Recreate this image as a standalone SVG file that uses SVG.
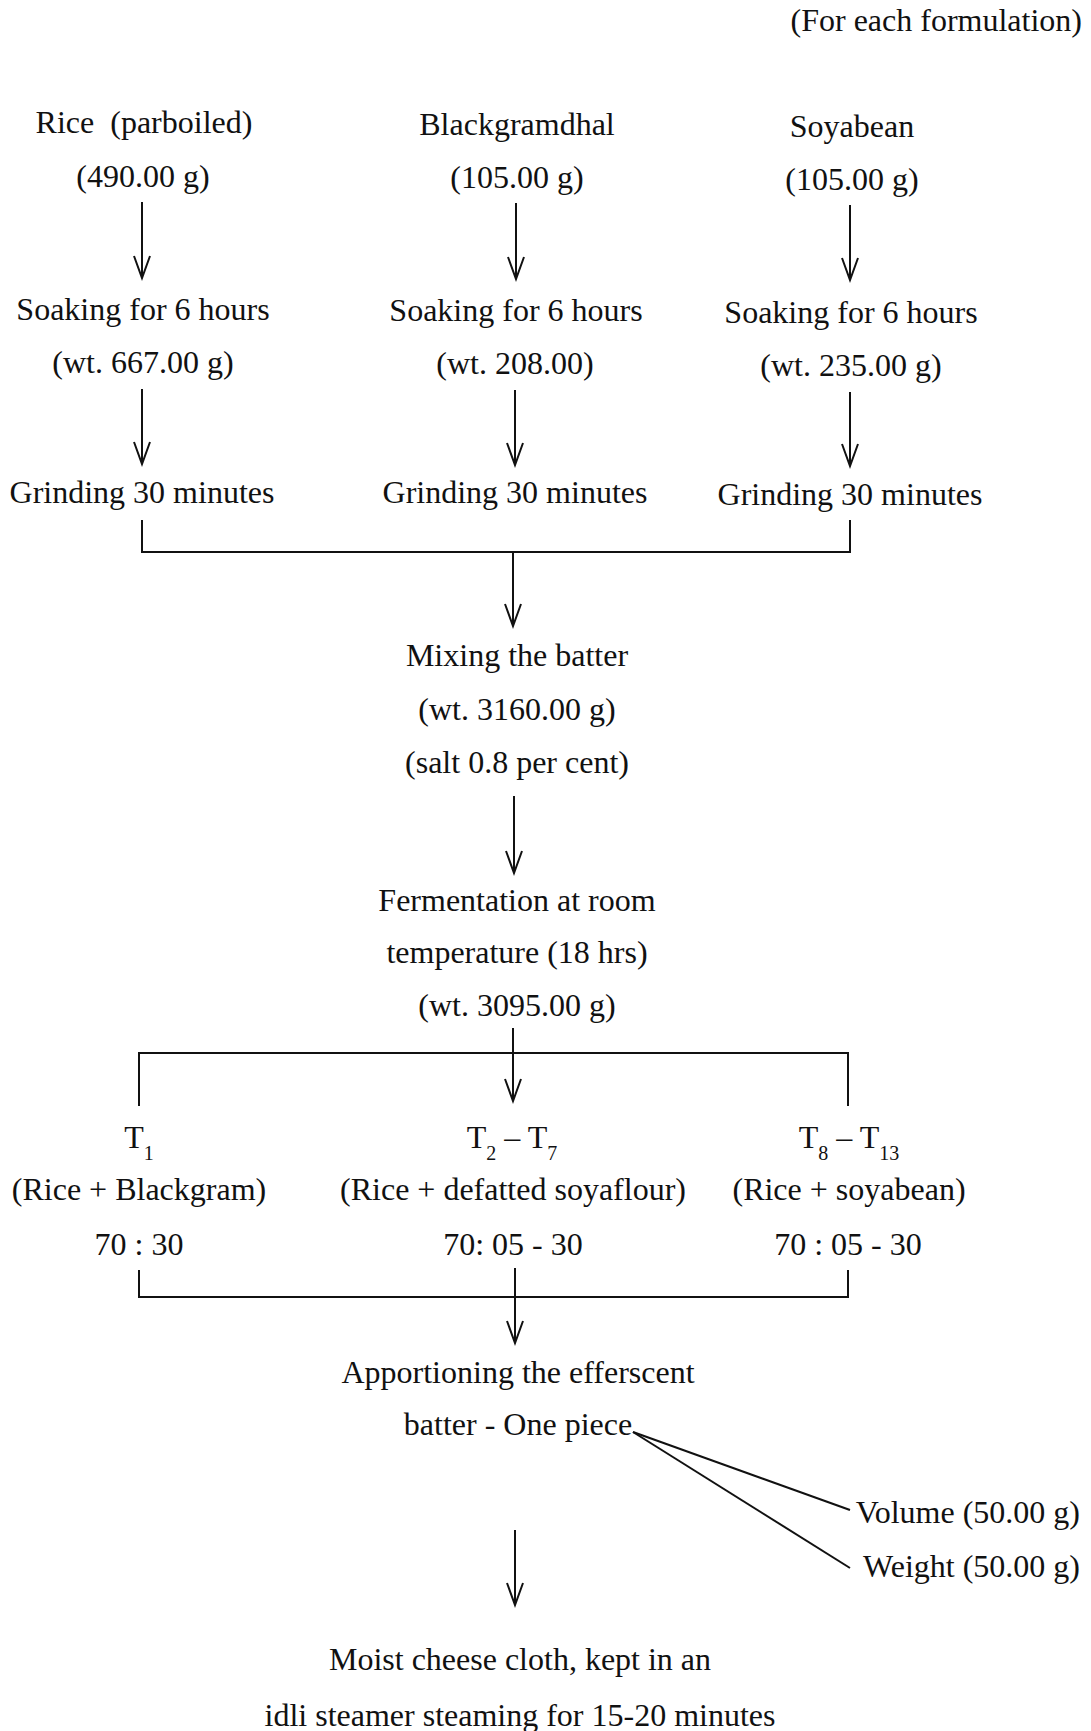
<svg xmlns="http://www.w3.org/2000/svg" width="1091" height="1731" viewBox="0 0 1091 1731">
<style>
text{font-family:"Liberation Serif","Times New Roman",serif;font-size:32px;fill:#111;text-anchor:middle}
.r{text-anchor:end}
.sub{font-size:20px}
line,polyline{stroke:#111;stroke-width:2;fill:none}
</style>
<defs>
<marker id="ah" markerUnits="userSpaceOnUse" viewBox="-24 -10 26 20" markerWidth="26" markerHeight="20" refX="0" refY="0" orient="auto" overflow="visible">
<path d="M-22,-8 L0,0 L-22,8" fill="none" stroke="#111" stroke-width="2"/>
</marker>
</defs>
<rect width="1091" height="1731" fill="#fff"/>
<g id="note"><text class="r" x="1082" y="31">(For each formulation)</text></g>
<g id="rice"><text x="144" y="133" xml:space="preserve">Rice  (parboiled)</text><text x="143" y="187">(490.00 g)</text></g>
<g id="blackgram"><text x="517" y="135">Blackgramdhal</text><text x="517" y="188">(105.00 g)</text></g>
<g id="soyabean"><text x="852" y="137">Soyabean</text><text x="852" y="190">(105.00 g)</text></g>
<g id="soak1"><text x="143" y="320">Soaking for 6 hours</text><text x="143" y="373">(wt. 667.00 g)</text></g>
<g id="soak2"><text x="516" y="321">Soaking for 6 hours</text><text x="515" y="374">(wt. 208.00)</text></g>
<g id="soak3"><text x="851" y="323">Soaking for 6 hours</text><text x="851" y="376">(wt. 235.00 g)</text></g>
<g id="grind1"><text x="142" y="503">Grinding 30 minutes</text></g>
<g id="grind2"><text x="515" y="503">Grinding 30 minutes</text></g>
<g id="grind3"><text x="850" y="505">Grinding 30 minutes</text></g>
<g id="mix"><text x="517" y="666">Mixing the batter</text><text x="517" y="720">(wt. 3160.00 g)</text><text x="517" y="773">(salt 0.8 per cent)</text></g>
<g id="ferment"><text x="517" y="911">Fermentation at room</text><text x="517" y="963">temperature (18 hrs)</text><text x="517" y="1016">(wt. 3095.00 g)</text></g>
<g id="t1"><text x="139" y="1148">T<tspan class="sub" dy="12">1</tspan></text><text x="139" y="1200">(Rice + Blackgram)</text><text x="139" y="1255">70 : 30</text></g>
<g id="t2"><text x="512" y="1148">T<tspan class="sub" dy="12">2</tspan><tspan dy="-12"> – T</tspan><tspan class="sub" dy="12">7</tspan></text><text x="513" y="1200">(Rice + defatted soyaflour)</text><text x="513" y="1255">70: 05 - 30</text></g>
<g id="t3"><text x="849" y="1148">T<tspan class="sub" dy="12">8</tspan><tspan dy="-12"> – T</tspan><tspan class="sub" dy="12">13</tspan></text><text x="849" y="1200">(Rice + soyabean)</text><text x="848" y="1255">70 : 05 - 30</text></g>
<g id="apportion"><text x="518" y="1383">Apportioning the efferscent</text><text x="518" y="1435">batter - One piece</text></g>
<g id="volume"><text class="r" x="1080" y="1523">Volume (50.00 g)</text></g>
<g id="weight"><text class="r" x="1080" y="1577">Weight (50.00 g)</text></g>
<g id="steam"><text x="520" y="1670">Moist cheese cloth, kept in an</text><text x="520" y="1726">idli steamer steaming for 15-20 minutes</text></g>
<g id="connectors">
<line x1="142" y1="202" x2="142" y2="278" marker-end="url(#ah)"/>
<line x1="516" y1="203" x2="516" y2="279" marker-end="url(#ah)"/>
<line x1="850" y1="205" x2="850" y2="280" marker-end="url(#ah)"/>
<line x1="142" y1="389" x2="142" y2="464" marker-end="url(#ah)"/>
<line x1="515" y1="390" x2="515" y2="465" marker-end="url(#ah)"/>
<line x1="850" y1="392" x2="850" y2="466" marker-end="url(#ah)"/>
<polyline points="142,520 142,552 850,552 850,520"/>
<line x1="513" y1="552" x2="513" y2="626" marker-end="url(#ah)"/>
<line x1="514" y1="796" x2="514" y2="873" marker-end="url(#ah)"/>
<polyline points="139,1106 139,1053 848,1053 848,1106"/>
<line x1="513" y1="1028" x2="513" y2="1101" marker-end="url(#ah)"/>
<polyline points="139,1270 139,1297 848,1297 848,1270"/>
<line x1="515" y1="1268" x2="515" y2="1343" marker-end="url(#ah)"/>
<line x1="633" y1="1432" x2="850" y2="1510"/>
<line x1="633" y1="1432" x2="850" y2="1568"/>
<line x1="515" y1="1530" x2="515" y2="1605" marker-end="url(#ah)"/>
</g>
</svg>
